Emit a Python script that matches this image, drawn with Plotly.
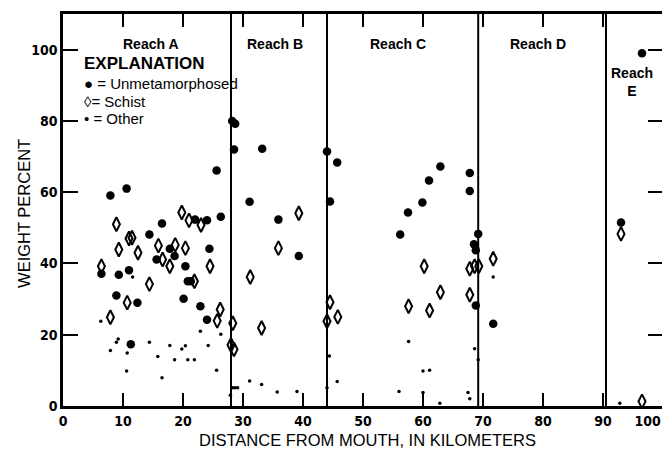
import plotly.graph_objects as go

# ---- data (km from mouth, weight percent) ----
unmet_km = [6.4, 7.9, 8.9, 9.3, 10.6, 11.0, 11.3, 12.4, 14.4, 15.6, 16.5, 17.8, 18.6, 20.1,
            20.4, 20.8, 21.3, 22.0, 22.9, 24.0, 24.0, 24.4, 25.6, 26.3, 28.5, 28.2, 28.7,
            31.1, 33.2, 35.9, 39.3, 44.0, 44.5, 45.7,
            56.2, 57.5, 59.9, 61.0, 62.9, 67.8, 67.8, 68.5, 68.8, 68.8, 69.2, 71.7,
            93.0, 96.5]
unmet_pct = [37.1, 59.1, 31.0, 36.8, 61.0, 38.1, 17.3, 29.0, 48.1, 41.1, 51.2, 44.1, 42.1, 30.1,
             39.2, 35.0, 35.0, 52.3, 28.0, 52.1, 24.2, 44.1, 66.1, 53.1, 72.0, 80.0, 79.2,
             57.3, 72.2, 52.3, 42.1, 71.4, 57.4, 68.3,
             48.1, 54.3, 57.1, 63.3, 67.2, 65.4, 60.3, 45.4, 43.7, 28.2, 48.3, 23.1,
             51.5, 99.0]

schist_km = [6.4, 7.9, 8.9, 9.3, 10.7, 11.0, 11.5, 12.5, 14.4, 15.9, 16.6, 17.8, 18.7, 19.8,
             20.4, 21.0, 21.9, 23.0, 24.5, 25.7, 26.2, 28.0, 28.3, 28.5,
             31.2, 33.1, 35.9, 39.3, 44.0, 44.5, 45.8,
             57.6, 60.2, 61.1, 62.9, 67.8, 67.8, 68.6, 69.3, 71.7,
             93.0, 96.5]
schist_pct = [39.2, 24.9, 51.0, 43.9, 29.0, 47.0, 47.2, 43.0, 34.2, 45.0, 41.1, 39.2, 45.2, 54.3,
              44.3, 52.1, 35.0, 50.8, 39.2, 23.9, 27.1, 17.1, 23.2, 15.9,
              36.2, 21.9, 44.3, 54.1, 23.8, 29.1, 25.0,
              28.0, 39.2, 26.8, 31.9, 31.2, 38.5, 39.2, 39.2, 41.3,
              48.3, 1.3]

other_km = [6.3, 7.9, 8.9, 9.2, 10.6, 10.7, 11.6, 14.4, 15.8, 16.5, 17.8, 18.6, 19.8, 20.4,
            20.8, 21.9, 22.9, 24.2, 25.6, 26.3, 27.9, 28.3, 28.7, 29.1,
            31.1, 33.1, 35.7, 39.0, 44.0, 44.4, 45.7,
            56.0, 57.6, 60.0, 60.0, 61.1, 62.8, 67.5, 67.8, 68.6, 69.2, 71.7,
            92.8]
other_pct = [23.8, 15.6, 17.9, 18.8, 9.8, 14.9, 36.2, 17.9, 13.9, 7.9, 17.0, 13.0, 16.0, 16.9,
             13.0, 13.0, 21.0, 17.0, 10.0, 20.1, 3.0, 5.1, 5.1, 5.1,
             7.0, 6.0, 3.9, 4.1, 5.1, 14.0, 6.9,
             4.1, 18.1, 9.8, 3.8, 10.0, 0.8, 3.8, 2.0, 16.1, 13.0, 36.2,
             0.8]

reach_bounds = [28, 44, 69.2, 90.5]
reach_labels = ["Reach A", "Reach B", "Reach C", "Reach D", "Reach<br>E"]
reach_label_km = [14.7, 35.3, 55.8, 79.2, 94.8]
reach_label_pct = [101.7, 101.7, 101.7, 101.7, 91.0]

x_ticks = list(range(0, 101, 10))
# trailing no-break spaces keep the last label inside the page edge
x_tick_labels = ["0", "10", "20", "30", "40", "50", "60", "70", "80", "90",
                 "100" + "\u00a0" * 7]
y_ticks = list(range(0, 101, 20))

legend_lines = ["EXPLANATION", "\u25cf = Unmetamorphosed", "\u25ca= Schist", "\u2022 = Other"]
x_title = "DISTANCE FROM MOUTH, IN KILOMETERS"
y_title = "WEIGHT PERCENT"

# ---- figure ----
TICKFONT = dict(family="Liberation Sans Narrow, DejaVu Sans Condensed, Liberation Sans, sans-serif",
                size=14, color="black", weight="bold")
SANS = "Liberation Sans, Arial, sans-serif"

fig = go.Figure()
fig.add_trace(go.Scatter(x=unmet_km, y=unmet_pct, mode="markers", name="Unmetamorphosed",
                         marker=dict(symbol="circle", size=8.5, color="black"),
                         cliponaxis=False))
fig.add_trace(go.Scatter(x=schist_km, y=schist_pct, mode="markers", name="Schist",
                         marker=dict(symbol="diamond-tall-open", size=10, color="black",
                                     line=dict(width=2, color="black")),
                         cliponaxis=False))
fig.add_trace(go.Scatter(x=other_km, y=other_pct, mode="markers", name="Other",
                         marker=dict(symbol="circle", size=3.5, color="black"),
                         cliponaxis=False))

for b in reach_bounds:
    fig.add_shape(type="line", x0=b, x1=b, y0=0, y1=1, xref="x", yref="paper",
                  line=dict(color="black", width=2))

for lab, xk, yp in zip(reach_labels, reach_label_km, reach_label_pct):
    fig.add_annotation(x=xk, y=yp, text=lab, showarrow=False, xanchor="center",
                       font=dict(family=SANS, size=14, color="black", weight="bold"))

# explanation (key)
fig.add_annotation(x=3.1, y=96.2, text=legend_lines[0], showarrow=False, xanchor="left",
                   font=dict(family=SANS, size=17, color="black", weight="bold"))
for txt, yp in zip(legend_lines[1:], [90.5, 85.4, 80.7]):
    fig.add_annotation(x=3.1, y=yp, text=txt, showarrow=False, xanchor="left",
                       font=dict(family=SANS, size=15, color="black"))

# axis titles
fig.add_annotation(x=0.507, y=-0.087, xref="paper", yref="paper", yanchor="middle",
                   text=x_title, showarrow=False,
                   font=dict(family=SANS, size=16.5, color="black"))
fig.add_annotation(x=-0.065, y=0.49, xref="paper", yref="paper", xanchor="center",
                   yanchor="middle", text=y_title, textangle=-90, showarrow=False,
                   font=dict(family=SANS, size=16.5, color="black"))

fig.update_layout(
    xaxis=dict(range=[0, 100], tickvals=x_ticks, ticktext=x_tick_labels,
               ticks="inside", ticklen=13, tickwidth=1.5, tickcolor="black",
               showline=True, linewidth=2.5, linecolor="black", mirror="allticks",
               showgrid=False, zeroline=False, tickfont=TICKFONT, automargin=False,
               ticklabeloverflow="allow"),
    yaxis=dict(range=[0, 110], tickvals=y_ticks, ticks="inside", ticklen=15, tickwidth=1.5,
               tickcolor="black", showline=True, linewidth=2.5, linecolor="black",
               mirror="allticks", showgrid=False, zeroline=False, tickfont=TICKFONT,
               automargin=False, ticklabeloverflow="allow"),
)

# the page body adds an 8 px margin, so the figure is sized to fill the rest
fig.update_layout(width=662, height=448,
                  margin=dict(l=55, r=7, t=6, b=50, autoexpand=False),
                  plot_bgcolor="white", paper_bgcolor="white", showlegend=False)

fig.write_html("out.html")
